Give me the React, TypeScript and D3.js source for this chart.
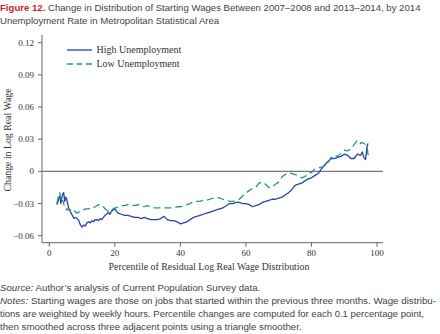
import React from "react";
import * as d3 from "d3";

const percentiles = [
  2.3, 2.6, 2.9, 3.2, 3.5, 3.8, 4.1, 4.4, 4.7, 5.0, 5.3, 5.6,
  6, 6.5, 7, 7.5, 8, 8.5, 9, 9.5, 10, 10.5, 11, 11.5, 12, 12.5, 13, 13.5, 14, 14.5,
  15, 15.5, 16, 16.5, 17, 17.5, 18, 18.5, 19, 19.5, 20, 20.5,
  21, 22, 23, 24, 25, 26, 27, 28, 29, 30, 31, 32, 33, 34, 35, 36, 37, 38, 39, 40,
  41, 42, 43, 44, 45, 46, 47, 48, 49, 50, 51, 52, 53, 54, 55, 56, 57, 58, 59, 60,
  61, 62, 63, 64, 65, 66, 67, 68, 69, 70, 71, 72, 73, 74, 75, 76, 77, 78, 79, 80,
  81, 82, 83, 84, 85, 86, 87, 88, 89, 90, 91, 92, 93, 94, 95,
  95.5, 96, 96.5, 97, 97.3,
];

const highUnemployment = [
  -0.031, -0.029, -0.025, -0.023, -0.03, -0.025, -0.021, -0.02, -0.028, -0.024, -0.026, -0.03,
  -0.035, -0.038, -0.041, -0.044, -0.043, -0.044, -0.046, -0.05, -0.052, -0.05, -0.051, -0.048,
  -0.047, -0.048, -0.046, -0.047, -0.045, -0.045, -0.046, -0.044, -0.045, -0.043, -0.041, -0.04,
  -0.038, -0.04, -0.037, -0.036, -0.035, -0.037,
  -0.039, -0.04, -0.041, -0.041, -0.042, -0.043, -0.043, -0.044, -0.043, -0.044,
  -0.045, -0.045, -0.045, -0.044, -0.042, -0.045, -0.046, -0.046, -0.047, -0.049,
  -0.048, -0.047, -0.045, -0.043, -0.042, -0.041, -0.04, -0.039, -0.038, -0.037,
  -0.036, -0.035, -0.034, -0.032, -0.03, -0.03, -0.029, -0.029, -0.03, -0.03,
  -0.031, -0.033, -0.032, -0.031, -0.029, -0.028, -0.027, -0.026, -0.026, -0.025,
  -0.024, -0.022, -0.02, -0.017, -0.013, -0.012, -0.011, -0.009, -0.007, -0.006,
  -0.004, -0.002, 0.002, 0.006, 0.009, 0.012, 0.012, 0.013, 0.014, 0.016,
  0.015, 0.012, 0.012, 0.016, 0.015,
  0.018, 0.013, 0.011, 0.024, 0.026,
];

const lowUnemployment = [
  -0.03, -0.026, -0.021, -0.02, -0.026, -0.029, -0.027, -0.03, -0.034, -0.034, -0.036, -0.035,
  -0.036, -0.036, -0.035, -0.036, -0.038, -0.039, -0.038, -0.037, -0.036, -0.036, -0.035, -0.035,
  -0.035, -0.034, -0.034, -0.034, -0.033, -0.032, -0.031, -0.032, -0.033, -0.033, -0.035, -0.036,
  -0.037, -0.036, -0.036, -0.035, -0.034, -0.034,
  -0.033, -0.032, -0.032, -0.031, -0.031, -0.032, -0.031, -0.032, -0.033, -0.032,
  -0.033, -0.034, -0.034, -0.034, -0.034, -0.034, -0.034, -0.034, -0.033, -0.033,
  -0.032, -0.031, -0.03, -0.028, -0.028, -0.028, -0.027, -0.027, -0.026, -0.025,
  -0.024, -0.025, -0.026, -0.027, -0.028, -0.028, -0.027, -0.026, -0.023, -0.02,
  -0.018, -0.016, -0.015, -0.011, -0.01, -0.012, -0.015, -0.015, -0.012, -0.01,
  -0.005, -0.003, -0.0015, -0.002, -0.003, -0.004, -0.006, -0.005, -0.002, -0.001,
  0.002, 0.003, 0.004, 0.005, 0.008, 0.013, 0.015, 0.014, 0.017, 0.02,
  0.019, 0.021, 0.025, 0.029, 0.026,
  0.027, 0.026, 0.025, 0.022, 0.015,
];

const xTicks = [0, 20, 40, 60, 80, 100];
const yTicks = [-0.06, -0.03, 0, 0.03, 0.06, 0.09, 0.12];
const seriesNames = ["High Unemployment", "Low Unemployment"];

const titleLabel = "Figure 12.";
const titleLine1 = " Change in Distribution of Starting Wages Between 2007–2008 and 2013–2014, by 2014";
const titleLine2 = "Unemployment Rate in Metropolitan Statistical Area";
const xTitle = "Percentile of Residual Log Real Wage Distribution";
const yTitle = "Change in Log Real Wage";
const notes = [
  "Starting wages are those on jobs that started within the previous three months. Wage distribu-",
  "tions are weighted by weekly hours. Percentile changes are computed for each 0.1 percentage point,",
  "then smoothed across three adjacent points using a triangle smoother.",
];

const BLUE = "#2b40aa";
const TEAL = "#1f9985";
const RED = "#d2202f";
const AXIS = "#666";
const TEXT = "#333";

export default function App() {
  const x = d3.scaleLinear().domain([0, 100]).range([49.3, 377]);
  const y = d3.scaleLinear().domain([-0.06, 0.12]).range([235.7, 42.7]);
  const axisLeft = 42;
  const axisBottom = 242.7;
  const axisTop = 35;
  const axisRight = 383;

  const line = d3
    .line<number>()
    .x((_, i) => x(percentiles[i]))
    .y((d) => y(d));

  const fmt = (v: number) => (v === 0 ? "0" : d3.format(".2f")(v));
  const serif = "'Liberation Serif', 'Times New Roman', serif";
  const sans = "'Liberation Sans', Arial, sans-serif";

  return (
    <svg
      width={440}
      height={334}
      style={{ position: "fixed", left: 0, top: 0, background: "#fff" }}
    >
      <rect width={440} height={334} fill="#fff" />
      {/* Title */}
      <text x={0} y={10.5} fontFamily={sans} fontSize={9.6} fill="#444">
        <tspan fill={RED} fontWeight="bold">{titleLabel}</tspan>
        <tspan>{titleLine1}</tspan>
      </text>
      <text x={0} y={24} fontFamily={sans} fontSize={9.6} fill="#444">
        {titleLine2}
      </text>

      {/* Axes */}
      <line x1={axisLeft} x2={axisLeft} y1={axisTop} y2={axisBottom} stroke={AXIS} strokeWidth={1} />
      <line x1={axisLeft} x2={axisRight} y1={axisBottom} y2={axisBottom} stroke={AXIS} strokeWidth={1} />
      <line x1={axisLeft} x2={axisRight} y1={y(0)} y2={y(0)} stroke="#777" strokeWidth={1.2} />

      {yTicks.map((t) => (
        <g key={"y" + t}>
          <line x1={axisLeft - 4} x2={axisLeft} y1={y(t)} y2={y(t)} stroke={AXIS} />
          <text
            x={34}
            y={y(t)}
            dy="0.33em"
            textAnchor="end"
            fontFamily={serif}
            fontSize={9}
            fill={TEXT}
          >
            {fmt(t)}
          </text>
        </g>
      ))}
      {xTicks.map((t) => (
        <g key={"x" + t}>
          <line x1={x(t)} x2={x(t)} y1={axisBottom} y2={axisBottom + 4} stroke={AXIS} />
          <text
            x={x(t)}
            y={256}
            textAnchor="middle"
            fontFamily={serif}
            fontSize={9}
            fill={TEXT}
          >
            {t}
          </text>
        </g>
      ))}

      <text x={209} y={270} textAnchor="middle" fontFamily={serif} fontSize={9.9} fill={TEXT}>
        {xTitle}
      </text>
      <text
        transform={`translate(11,140) rotate(-90)`}
        textAnchor="middle"
        fontFamily={serif}
        fontSize={9.8}
        fill={TEXT}
      >
        {yTitle}
      </text>

      {/* Series */}
      <path d={line(highUnemployment) || ""} fill="none" stroke={BLUE} strokeWidth={1.3} strokeLinejoin="round" />
      <path
        d={line(lowUnemployment) || ""}
        fill="none"
        stroke={TEAL}
        strokeWidth={1.3}
        strokeDasharray="7,4"
        strokeLinejoin="round"
      />

      {/* Legend */}
      <line x1={67} x2={92} y1={50} y2={50} stroke={BLUE} strokeWidth={1.3} />
      <text x={96.5} y={53} fontFamily={serif} fontSize={10} fill={TEXT}>
        {seriesNames[0]}
      </text>
      <line x1={67} x2={92} y1={64} y2={64} stroke={TEAL} strokeWidth={1.3} strokeDasharray="6,3.5" />
      <text x={96.5} y={67} fontFamily={serif} fontSize={10} fill={TEXT}>
        {seriesNames[1]}
      </text>

      {/* Footnotes */}
      <text x={0} y={290.5} fontFamily={sans} fontSize={9.7} fill="#444">
        <tspan fontStyle="italic">Source:</tspan>
        <tspan> Author’s analysis of Current Population Survey data.</tspan>
      </text>
      <text
        x={0}
        y={303.8}
        fontFamily={sans}
        fontSize={9.6}
        fill="#444"
        textLength={436}
        lengthAdjust="spacingAndGlyphs"
      >
        <tspan fontStyle="italic">Notes:</tspan>
        <tspan> {notes[0]}</tspan>
      </text>
      <text
        x={0}
        y={317.1}
        fontFamily={sans}
        fontSize={9.6}
        fill="#444"
        textLength={424}
        lengthAdjust="spacingAndGlyphs"
      >
        {notes[1]}
      </text>
      <text x={0} y={330.4} fontFamily={sans} fontSize={9.7} fill="#444">
        {notes[2]}
      </text>
    </svg>
  );
}
